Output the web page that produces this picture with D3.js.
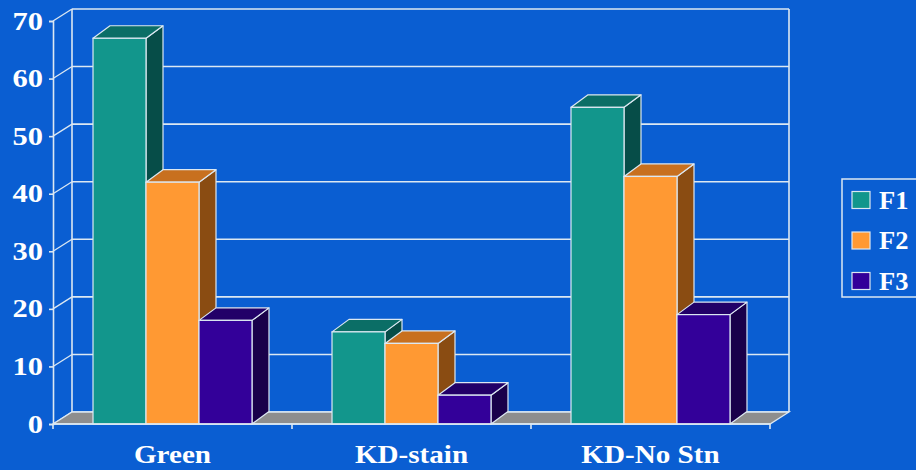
<!DOCTYPE html>
<html>
<head>
<meta charset="utf-8">
<script src="https://cdn.jsdelivr.net/npm/d3@7"></script>
<style>
  html, body { margin: 0; padding: 0; background: #0a5ed2; }
  svg { display: block; }
  text { font-family: "Liberation Serif", "Times New Roman", serif; font-weight: bold; fill: #ffffff; }
</style>
</head>
<body>
<svg id="chart" width="916" height="470"></svg>
<script>
// Categories, series and values
const categories = ["Green", "KD-stain", "KD-No Stn"];
const seriesNames = ["F1", "F2", "F3"];
const f1Values = [67, 16, 55];
const f2Values = [42, 14, 43];
const f3Values = [18, 5, 19];
const yTicks = [0, 10, 20, 30, 40, 50, 60, 70];

const seriesValues = [f1Values, f2Values, f3Values];
const faceColors = {
  F1: { front: "#12968c", top: "#0b6e66", side: "#064d48" },
  F2: { front: "#ff9933", top: "#c8701f", side: "#8a4c12" },
  F3: { front: "#330099", top: "#220068", side: "#19004a" }
};
const lineColor = "#dce8f2";

const svg = d3.select("#chart");

// Front plane of the 3-D box and its depth offset
const x0 = d3.scaleBand().domain(categories).range([53, 770]).padding(0);
const x1 = d3.scaleBand().domain(seriesNames)
  .range([0, x0.bandwidth()]).paddingInner(0).paddingOuter(0.755);
const y = d3.scaleLinear().domain([0, 70]).range([424, 21]);
const depth = { dx: 19, dy: -12 };
const barDepth = { dx: 17, dy: -12.5 };

const xL = x0.range()[0], xR = x0.range()[1];

// Back wall gridlines
svg.append("g").selectAll("line").data(yTicks).join("line")
  .attr("x1", xL + depth.dx).attr("x2", xR + depth.dx)
  .attr("y1", d => y(d) + depth.dy).attr("y2", d => y(d) + depth.dy)
  .attr("stroke", lineColor).attr("stroke-width", 1.6);

// Side-wall diagonals joining the front axis to the back wall
svg.append("g").selectAll("line").data(yTicks).join("line")
  .attr("x1", xL).attr("x2", xL + depth.dx)
  .attr("y1", d => y(d)).attr("y2", d => y(d) + depth.dy)
  .attr("stroke", lineColor).attr("stroke-width", 1.3);

// Back wall verticals
[xL + depth.dx, xR + depth.dx].forEach(xx => {
  svg.append("line")
    .attr("x1", xx).attr("x2", xx)
    .attr("y1", y(70) + depth.dy).attr("y2", y(0) + depth.dy)
    .attr("stroke", lineColor).attr("stroke-width", 1.6);
});

// Floor
svg.append("path")
  .attr("d", `M${xL},${y(0)} L${xR},${y(0)} L${xR + depth.dx},${y(0) + depth.dy} L${xL + depth.dx},${y(0) + depth.dy} Z`)
  .attr("fill", "#8e8e8e").attr("stroke", lineColor).attr("stroke-width", 1.3);

// Y axis on the front plane
const yAxis = svg.append("g")
  .attr("transform", `translate(${xL},0)`)
  .call(d3.axisLeft(y).tickValues(yTicks).tickSize(4).tickPadding(6).tickFormat(d3.format("d")));
yAxis.select(".domain").attr("stroke", lineColor).attr("stroke-width", 1.6);
yAxis.selectAll(".tick line").attr("stroke", lineColor).attr("stroke-width", 1.6);
// widen the serif digits a little, anchored at their right edge
yAxis.selectAll(".tick text")
  .attr("fill", "#ffffff")
  .style("font-family", "'Liberation Serif', 'Times New Roman', serif")
  .style("font-weight", "bold").style("font-size", "25px")
  .attr("x", null)
  .attr("transform", "translate(-10,0) scale(1.22,1)");

// Bars, drawn left to right so each front face covers the previous side face
const bars = [];
categories.forEach((c, ci) => {
  seriesNames.forEach((s, si) => {
    bars.push({ cat: c, series: s, value: seriesValues[si][ci] });
  });
});

const barG = svg.append("g");
bars.forEach(b => {
  const bx = x0(b.cat) + x1(b.series);
  const bw = x1.bandwidth();
  const by = y(b.value);
  const b0 = y(0);
  const c = faceColors[b.series];
  const g = barG.append("g");
  // side face
  g.append("path")
    .attr("d", `M${bx + bw},${b0} L${bx + bw + barDepth.dx},${b0 + barDepth.dy} L${bx + bw + barDepth.dx},${by + barDepth.dy} L${bx + bw},${by} Z`)
    .attr("fill", c.side).attr("stroke", lineColor).attr("stroke-width", 1.2).attr("stroke-linejoin", "round");
  // top face
  g.append("path")
    .attr("d", `M${bx},${by} L${bx + barDepth.dx},${by + barDepth.dy} L${bx + bw + barDepth.dx},${by + barDepth.dy} L${bx + bw},${by} Z`)
    .attr("fill", c.top).attr("stroke", lineColor).attr("stroke-width", 1.2).attr("stroke-linejoin", "round");
  // front face
  g.append("rect")
    .attr("x", bx).attr("y", by).attr("width", bw).attr("height", b0 - by)
    .attr("fill", c.front).attr("stroke", lineColor).attr("stroke-width", 1.2);
});

// Category axis along the front of the floor
svg.append("line")
  .attr("x1", xL).attr("x2", xR).attr("y1", y(0)).attr("y2", y(0))
  .attr("stroke", lineColor).attr("stroke-width", 1.6);
const boundaries = categories.map(c => x0(c)).concat([xR]);
svg.append("g").selectAll("line").data(boundaries).join("line")
  .attr("x1", d => d).attr("x2", d => d)
  .attr("y1", y(0)).attr("y2", y(0) + 5)
  .attr("stroke", lineColor).attr("stroke-width", 1.6);

svg.append("g").selectAll("text").data(categories).join("text")
  .attr("transform", d => `translate(${x0(d) + x0.bandwidth() / 2},463) scale(1.12,1)`)
  .attr("text-anchor", "middle")
  .style("font-size", "26px")
  .text(d => d);

// Legend
const legend = svg.append("g");
legend.append("rect")
  .attr("x", 842).attr("y", 179).attr("width", 90).attr("height", 118)
  .attr("fill", "none").attr("stroke", lineColor).attr("stroke-width", 1.5);
seriesNames.forEach((s, i) => {
  const ly = 200 + i * 40.5;
  legend.append("rect")
    .attr("x", 852).attr("y", ly - 8.5).attr("width", 18).attr("height", 17)
    .attr("fill", faceColors[s].front).attr("stroke", lineColor).attr("stroke-width", 1.2);
  legend.append("text")
    .attr("transform", `translate(879,${ly}) scale(1.06,1)`)
    .attr("dy", "0.35em")
    .style("font-size", "25px")
    .text(s);
});
</script>
</body>
</html>
